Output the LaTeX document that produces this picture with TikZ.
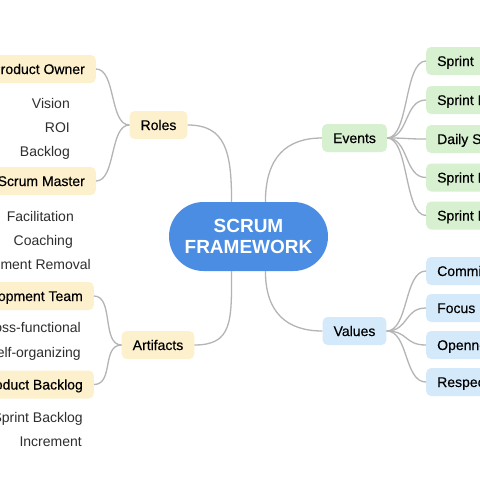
\documentclass[tikz,border=0pt]{standalone}
\usepackage{fontspec}
\setmainfont{Liberation Sans}
\newfontfamily\medfont[FakeBold=0.35]{Liberation Sans}
\begin{document}
\begin{tikzpicture}[x=1pt,y=-1pt,
  box/.style={rounded corners=5pt,inner xsep=11pt,inner ysep=0pt,minimum height=28pt,
    text height=10pt,text depth=0pt,font=\medfont\fontsize{14}{16}\selectfont,text=black},
  rolebox/.style={box,fill=ybox},
  evbox/.style={box,fill=gbox},
  valbox/.style={box,fill=bbox},
  leaf/.style={inner sep=0pt,text height=10pt,text depth=0pt,font=\fontsize{14}{16}\selectfont,text=black!82},
  link/.style={draw=linec,line width=1.3pt}
]
\definecolor{ybox}{HTML}{FDF0CC}
\definecolor{gbox}{HTML}{D6F0D0}
\definecolor{bbox}{HTML}{D4EAFB}
\definecolor{cblue}{HTML}{4A8DE3}
\definecolor{linec}{HTML}{B4B4B4}
\useasboundingbox (0,0) rectangle (480,480);
\clip (0,0) rectangle (480,480);
\fill[white] (0,0) rectangle (480,480);

% center
\node[fill=cblue,rounded corners=34.5pt,minimum width=159pt,minimum height=69pt,inner sep=0pt,
  align=center,text=white,font=\bfseries\fontsize{19}{21}\selectfont] (c) at (248.5,236.5) {SCRUM\\FRAMEWORK};

% main branches
\node[rolebox] (roles) at (158.5,125) {Roles};
\node[rolebox] (art) at (158,345) {Artifacts};
\node[evbox] (ev) at (354.5,138) {Events};
\node[valbox] (val) at (354.5,331) {Values};

% roles children
\node[rolebox,anchor=east] (po) at (96,69) {Product Owner};
\node[rolebox,anchor=east] (sm) at (96,181) {Scrum Master};
\node[leaf,anchor=east] (l1) at (70,103) {Vision};
\node[leaf,anchor=east] (l2) at (70,127) {ROI};
\node[leaf,anchor=east] (l3) at (70,151) {Backlog};
\node[leaf,anchor=east] (l4) at (74,216) {Facilitation};
\node[leaf,anchor=east] (l5) at (73,240) {Coaching};
\node[leaf,anchor=east] (l6) at (91,264) {Impediment Removal};

% artifacts children
\node[rolebox,anchor=east] (dt) at (94,296) {Development Team};
\node[rolebox,anchor=east] (pb) at (94,384.5) {Product Backlog};
\node[leaf,anchor=east] (l7) at (81,327) {Cross-functional};
\node[leaf,anchor=east] (l8) at (81,352) {Self-organizing};
\node[leaf,anchor=east] (l9) at (83,417) {Sprint Backlog};
\node[leaf,anchor=east] (l10) at (82,441) {Increment};

% events children
\node[evbox,anchor=west] (e1) at (426,61) {Sprint};
\node[evbox,anchor=west] (e2) at (426,100) {Sprint Planning};
\node[evbox,anchor=west] (e3) at (426,139) {Daily Scrum};
\node[evbox,anchor=west] (e4) at (426,177.5) {Sprint Review};
\node[evbox,anchor=west] (e5) at (426,215.5) {Sprint Retrospective};

% values children
\node[valbox,anchor=west] (v1) at (426,271) {Commitment};
\node[valbox,anchor=west] (v2) at (426,308) {Focus};
\node[valbox,anchor=west] (v3) at (426,345) {Openness};
\node[valbox,anchor=west] (v4) at (426,382) {Respect};

% connectors
\path[link] (c.116) .. controls +(0,-50) and +(38,0) .. (roles.east);
\path[link] (c.64) .. controls +(0,-45) and +(-35,0) .. (ev.west);
\path[link] (c.244) .. controls +(0,50) and +(38,0) .. (art.east);
\path[link] (c.296) .. controls +(0,42) and +(-35,0) .. (val.west);

\foreach \k in {po,sm}
  \path[link] (roles.west) .. controls +(-20,0) and +(20,0) .. (\k.east);
\foreach \k in {dt,pb}
  \path[link] (art.west) .. controls +(-20,0) and +(20,0) .. (\k.east);
\foreach \k in {e1,e2,e3,e4,e5}
  \path[link] (ev.east) .. controls +(22,0) and +(-22,0) .. (\k.west);
\foreach \k in {v1,v2,v3,v4}
  \path[link] (val.east) .. controls +(22,0) and +(-22,0) .. (\k.west);
\end{tikzpicture}
\end{document}
